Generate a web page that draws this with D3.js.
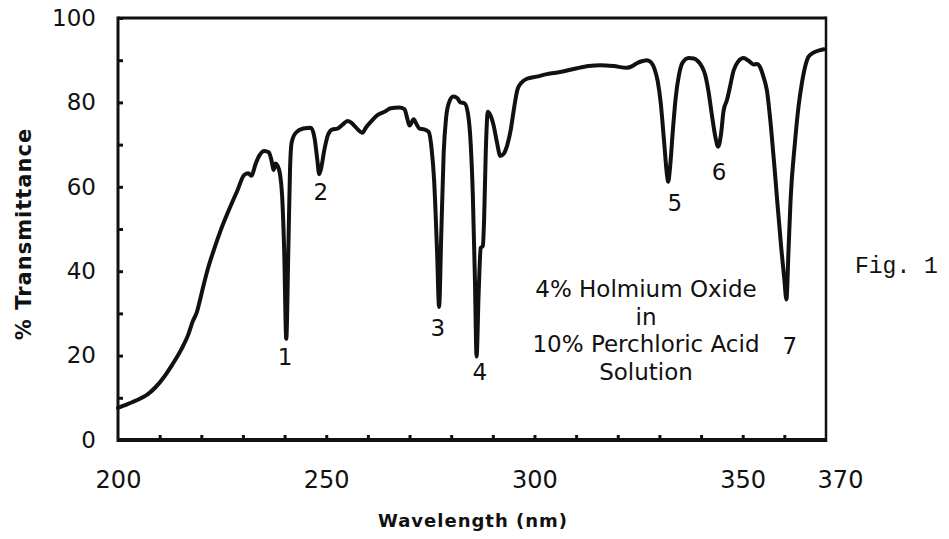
<!DOCTYPE html>
<html>
<head>
<meta charset="utf-8">
<script src="https://cdn.jsdelivr.net/npm/d3@7"></script>
<style>
  body { margin: 0; background: #fff; }
  svg { display: block; }
  .tick text { fill: #111; }
</style>
</head>
<body>
<div id="chart"></div>
<script>
// spectrum: wavelength (nm) and % transmittance
const wavelength = [
  200.0, 201.5, 203.5, 205.5, 207.1, 209.0, 211.1, 213.0, 215.1, 216.8,
  217.9, 219.0, 219.5, 220.5, 221.5, 223.0, 224.7, 226.5, 228.7, 230.3,
  231.3, 232.0, 233.1, 234.0, 235.1, 236.2, 236.8, 237.4, 237.8, 238.3,
  238.9, 239.4, 239.9, 240.4, 240.9, 241.3, 241.7, 242.7, 244.5, 246.3,
  247.2, 247.9, 248.3, 248.8, 249.5, 250.5, 251.5, 252.7, 254.0, 255.1,
  256.0, 257.0, 258.7, 259.5, 260.7, 262.3, 264.0, 265.5, 267.5, 268.8,
  269.5, 270.0, 271.0, 271.6, 272.4, 273.5, 274.6, 275.3, 275.9, 276.6,
  277.1, 277.6, 278.2, 278.8, 279.5, 280.5, 281.5, 282.2, 283.2, 284.0,
  284.7, 285.2, 285.7, 286.1, 286.6, 287.1, 287.6, 287.9, 288.3, 288.8,
  289.4, 290.2, 291.0, 291.8, 292.6, 293.5, 294.3, 295.0, 295.9, 296.8,
  298.2, 300.5, 303.0, 306.2, 310.2, 313.0, 315.8, 319.0, 322.2, 323.5,
  324.6, 326.0, 327.0, 328.0, 328.8, 329.6, 330.3, 331.1, 331.8, 332.1,
  332.5, 333.2, 333.9, 334.7, 335.5, 337.0, 338.3, 339.2, 340.2, 341.0,
  341.8, 342.6, 343.5, 344.1, 344.8, 345.4, 346.2, 346.8, 347.8, 349.0,
  350.2, 351.5, 352.6, 353.4, 354.2, 355.0, 355.8, 356.8, 357.6, 358.3,
  359.3, 360.0, 360.5, 361.0, 361.5, 362.5, 363.4, 364.2, 365.0, 365.8,
  367.0, 368.6, 369.5
];
const transmittance = [
  7.6, 8.2, 9.0, 9.9, 10.8, 12.5, 15.0, 17.8, 21.3, 24.8,
  28.0, 30.5, 32.4, 36.5, 40.3, 45.0, 49.8, 54.2, 59.2, 62.8,
  63.2, 62.6, 65.6, 67.5, 68.5, 68.2, 66.5, 64.0, 65.5, 65.0,
  63.0, 58.0, 45.0, 24.0, 45.0, 64.0, 70.5, 72.8, 73.8, 74.0,
  71.5, 66.0, 63.0, 64.5, 68.5, 72.5, 73.6, 73.8, 74.8, 75.6,
  75.2, 74.2, 72.8, 74.0, 75.4, 77.0, 77.8, 78.6, 78.8, 78.4,
  76.0, 74.5, 76.0, 75.0, 73.8, 73.6, 73.0, 69.0, 61.6, 45.0,
  31.5, 48.0, 68.0, 76.5, 80.0, 81.4, 81.0, 80.0, 79.8, 77.5,
  70.0, 58.0, 38.0, 19.8, 35.0, 45.5, 46.0, 52.0, 68.0, 77.8,
  77.0, 74.5, 70.5, 67.3, 67.8, 70.0, 73.5, 78.0, 83.0, 84.6,
  85.6, 86.1, 86.7, 87.2, 88.1, 88.6, 88.8, 88.6, 88.2, 88.6,
  89.3, 89.8, 90.0, 89.5, 88.0, 85.0, 80.0, 71.0, 63.0, 61.2,
  64.0, 73.0, 81.0, 86.5, 89.3, 90.5, 90.4, 89.8, 88.5, 86.5,
  82.5, 77.0, 71.5, 69.5, 72.5, 78.0, 80.5, 83.0, 87.5, 89.8,
  90.5, 89.8, 89.0, 89.1, 88.3, 86.0, 82.9, 74.0, 65.0, 56.5,
  45.0, 38.0, 33.3, 45.0, 57.0, 70.0, 79.0, 84.5, 88.5, 90.8,
  91.8, 92.4, 92.6
];

// peak numbers and where they sit (data units)
const peakNames = ["1", "2", "3", "4", "5", "6", "7"];
const peakLabelWl = [240.1, 248.7, 276.8, 286.9, 333.7, 344.3, 361.3];
const peakLabelT = [19.7, 58.8, 26.5, 16.1, 56.2, 63.5, 22.3];

const yTicks = d3.range(0, 101, 10);
const yLabels = [0, 20, 40, 60, 80, 100];
const xTicks = d3.range(210, 361, 10);
const xLabels = [200, 250, 300, 350, 370];
const noteLines = ["4% Holmium Oxide", "in", "10% Perchloric Acid", "Solution"];

const W = 949, H = 539;
const mLeft = 118, mRight = 826, mTop = 18, mBottom = 440;

const svg = d3.select("#chart").append("svg")
    .attr("width", W)
    .attr("height", H);

const x = d3.scaleLinear().domain([200, 370]).range([mLeft, mRight]);
const y = d3.scaleLinear().domain([0, 100]).range([mBottom, mTop]);

const font = "'DejaVu Sans', sans-serif";

// y axis: inward ticks every 10, labels every 20
const yAxis = svg.append("g")
    .attr("transform", `translate(${mLeft},0)`)
    .call(d3.axisLeft(y)
      .tickValues(yTicks)
      .tickSize(-5)
      .tickPadding(22)
      .tickFormat(d => yLabels.includes(d) ? d : ""));
yAxis.select(".domain").remove();
yAxis.selectAll(".tick line").attr("stroke", "#111").attr("stroke-width", 3);
yAxis.selectAll(".tick text")
    .style("font-family", font)
    .style("font-size", "23px");

// x axis: ticks only
const xTickAxis = svg.append("g")
    .attr("transform", `translate(0,${mBottom})`)
    .call(d3.axisBottom(x).tickValues(xTicks).tickSize(-5).tickFormat(""));
xTickAxis.select(".domain").remove();
xTickAxis.selectAll(".tick line").attr("stroke", "#111").attr("stroke-width", 3);

// x axis labels
const xLabelAxis = svg.append("g")
    .attr("transform", `translate(0,${mBottom})`)
    .call(d3.axisBottom(x).tickValues(xLabels).tickSize(0).tickPadding(31));
xLabelAxis.select(".domain").remove();
xLabelAxis.selectAll(".tick text")
    .style("font-family", font)
    .style("font-size", "24px")
    .attr("dx", d => d === 370 ? 14 : 0);

// frame
const frame = svg.append("g").attr("stroke", "#111").attr("fill", "none");
frame.append("line").attr("x1", mLeft).attr("x2", mRight).attr("y1", mTop).attr("y2", mTop).attr("stroke-width", 3);
frame.append("line").attr("x1", mLeft).attr("x2", mRight).attr("y1", mBottom).attr("y2", mBottom).attr("stroke-width", 4);
frame.append("line").attr("x1", mLeft).attr("x2", mLeft).attr("y1", mTop - 1.5).attr("y2", mBottom + 2).attr("stroke-width", 3);
frame.append("line").attr("x1", mRight).attr("x2", mRight).attr("y1", mTop - 1.5).attr("y2", mBottom + 2).attr("stroke-width", 2.5);

// spectrum
const points = wavelength.map((w, i) => [w, transmittance[i]]);
const line = d3.line()
    .x(d => x(d[0]))
    .y(d => y(d[1]))
    .curve(d3.curveMonotoneX);

svg.append("path")
    .datum(points)
    .attr("fill", "none")
    .attr("stroke", "#111")
    .attr("stroke-width", 4)
    .attr("stroke-linejoin", "round")
    .attr("stroke-linecap", "round")
    .attr("d", line);

// peak numbers
svg.append("g").selectAll("text")
    .data(peakNames)
    .join("text")
    .attr("x", (d, i) => x(peakLabelWl[i]))
    .attr("y", (d, i) => y(peakLabelT[i]))
    .attr("text-anchor", "middle")
    .attr("dominant-baseline", "central")
    .style("font-family", font)
    .style("font-size", "23px")
    .attr("fill", "#111")
    .text(d => d);

// sample note
svg.append("g").selectAll("text")
    .data(noteLines)
    .join("text")
    .attr("x", 646)
    .attr("y", (d, i) => 297 + i * 27.5)
    .attr("text-anchor", "middle")
    .style("font-family", font)
    .style("font-size", "23px")
    .attr("fill", "#111")
    .text(d => d);

// axis titles
svg.append("text")
    .attr("x", (mLeft + mRight) / 2 + 1)
    .attr("y", 527)
    .attr("text-anchor", "middle")
    .style("font-family", font)
    .style("font-size", "18px")
    .style("font-weight", "bold")
    .style("letter-spacing", "1px")
    .attr("fill", "#111")
    .text("Wavelength (nm)");

svg.append("text")
    .attr("transform", "translate(31,234) rotate(-90)")
    .attr("text-anchor", "middle")
    .style("font-family", font)
    .style("font-size", "21px")
    .style("font-weight", "bold")
    .style("letter-spacing", "1px")
    .attr("fill", "#111")
    .text("% Transmittance");

svg.append("text")
    .attr("x", 855)
    .attr("y", 273)
    .style("font-family", "'Liberation Mono', 'DejaVu Sans Mono', monospace")
    .style("font-size", "23px")
    .attr("fill", "#111")
    .text("Fig. 1");
</script>
</body>
</html>
